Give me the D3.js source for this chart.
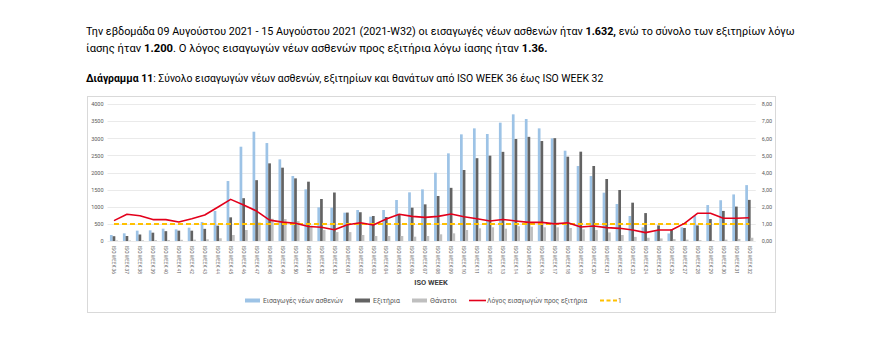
<!DOCTYPE html>
<html>
<head>
<meta charset="utf-8">
<script src="https://cdn.jsdelivr.net/npm/d3@7"></script>
<style>
  body { margin: 0; background: #fff; }
  svg { display: block; }
</style>
</head>
<body>
<svg id="chart" width="873" height="350"></svg>
<script>
// weeks 36..53 of 2020, then 01..32 of 2021
var weeks = ["36","37","38","39","40","41","42","43","44","45","46","47","48","49","50","51","52","53",
	     "01","02","03","04","05","06","07","08","09","10","11","12","13","14","15","16",
	     "17","18","19","20","21","22","23","24","25","26","27","28","29","30","31","32"];

var admissions = [175,224,302,311,360,340,389,555,876,1751,2753,3191,2860,2384,1897,1508,983,973,
		  827,905,710,905,1197,1421,1508,1995,2559,3114,3289,3124,3455,3698,3562,3289,
		  2997,2637,2189,1897,1411,1080,730,400,290,220,400,730,1050,1190,1360,1632];

var discharges = [140,146,190,243,287,302,302,355,448,691,1250,1776,2267,2141,1829,1732,1226,1416,
		  830,840,730,700,759,973,1070,1314,1552,2073,2418,2491,2603,2978,3041,2919,
		  3002,2462,2608,2190,1810,1489,1119,815,455,340,380,455,640,878,1005,1200];

var deaths = [15,15,20,25,30,35,40,50,80,175,321,540,650,640,580,450,320,260,
	      260,175,146,146,146,126,146,195,224,321,370,400,360,430,418,400,
	      400,380,340,320,250,175,120,95,75,55,40,25,25,40,60,95];

var ratio = [1.19,1.56,1.47,1.25,1.25,1.11,1.30,1.52,1.97,2.43,2.10,1.75,1.22,1.10,1.04,0.85,0.80,0.66,
	     0.95,1.07,0.93,1.28,1.56,1.44,1.38,1.44,1.58,1.42,1.30,1.17,1.26,1.17,1.09,1.09,
	     1.00,1.07,0.82,0.88,0.78,0.74,0.64,0.49,0.64,0.64,1.03,1.62,1.62,1.33,1.33,1.36];

var leftTicks = [0,500,1000,1500,2000,2500,3000,3500,4000];
var rightTicks = [0,1,2,3,4,5,6,7,8];

var seriesNames = ["Εισαγωγές νέων ασθενών", "Εξιτήρια", "Θάνατοι"];
var seriesColors = ["#9dc3e6", "#636363", "#bfbfbf"];
var ratioName = "Λόγος εισαγωγών προς εξιτήρια";

var svg = d3.select("#chart");
var font = "Roboto, 'Liberation Sans', sans-serif";

svg.append("rect").attr("width", 873).attr("height", 350).attr("fill", "#fff");

// header text: measure, then squeeze horizontally to the reference width
function textLine(y, parts, len){
    var g = svg.append("g");
    var t = g.append("text")
	.attr("x", 0).attr("y", 0)
	.attr("font-family", font)
	.attr("font-size", 11)
	.attr("fill", "#000");
    parts.forEach(function(p){
	t.append("tspan").attr("font-weight", p[1] ? "bold" : "normal").text(p[0]);
    });
    var w = t.node().getComputedTextLength();
    g.attr("transform", "translate(86," + y + ") scale(" + (len / w) + ",1)");
}
textLine(35, [["Την εβδομάδα 09 Αυγούστου 2021 - 15 Αυγούστου 2021 (2021-W32) οι εισαγωγές νέων ασθενών ήταν ", false],
	      ["1.632,", true], [" ενώ το σύνολο των εξιτηρίων λόγω", false]], 710);
textLine(52, [["ίασης ήταν ", false], ["1.200", true],
	      [". Ο λόγος εισαγωγών νέων ασθενών προς εξιτήρια λόγω ίασης ήταν ", false], ["1.36.", true]], 462);
textLine(82, [["Διάγραμμα 11", true],
	      [": Σύνολο εισαγωγών νέων ασθενών, εξιτηρίων και θανάτων από ISO WEEK 36 έως ISO WEEK 32", false]], 518);

// chart frame
svg.append("rect")
    .attr("x", 87.5).attr("y", 96.5)
    .attr("width", 688).attr("height", 216)
    .attr("fill", "none")
    .attr("stroke", "#d9d9d9")
    .attr("stroke-width", 1);

var plotLeft = 107.5, plotRight = 755.8, plotTop = 104, plotBottom = 241;

var x = d3.scaleBand()
    .domain(weeks)
    .range([plotLeft, plotRight])
    .paddingInner(0.375)
    .paddingOuter(0.1875);

var xSub = d3.scaleBand()
    .domain([0,1,2])
    .range([0, x.bandwidth()]);

var yL = d3.scaleLinear().domain([0, 4000]).range([plotBottom, plotTop]);
var yR = d3.scaleLinear().domain([0, 8]).range([plotBottom, plotTop]);

var comma = d3.formatLocale({decimal: ",", thousands: ".", grouping: [3], currency: ["", "€"]}).format(".2f");

// gridlines
svg.append("g")
    .selectAll("line")
    .data(leftTicks)
    .enter().append("line")
    .attr("x1", plotLeft).attr("x2", plotRight)
    .attr("y1", function(d){return Math.round(yL(d)) + 0.5;})
    .attr("y2", function(d){return Math.round(yL(d)) + 0.5;})
    .attr("stroke", "#e4e4e4")
    .attr("stroke-width", 0.8);

// left axis
var axL = svg.append("g")
    .attr("transform", "translate(" + (plotLeft - 4) + ",0)")
    .call(d3.axisLeft(yL).tickValues(leftTicks).tickFormat(d3.format("d")).tickSize(0).tickPadding(0));
axL.select(".domain").remove();
axL.selectAll("text")
    .attr("font-family", font).attr("font-size", 5.5).attr("fill", "#595959");

// right axis
var axR = svg.append("g")
    .attr("transform", "translate(" + (plotRight + 6) + ",0)")
    .call(d3.axisRight(yR).tickValues(rightTicks).tickFormat(comma).tickSize(0).tickPadding(0));
axR.select(".domain").remove();
axR.selectAll("text")
    .attr("font-family", font).attr("font-size", 5.5).attr("fill", "#595959");

// bars
var barData = [admissions, discharges, deaths];
barData.forEach(function(vals, s){
    svg.append("g")
	.selectAll("rect")
	.data(vals)
	.enter().append("rect")
	.attr("x", function(d,i){return x(weeks[i]) + xSub(s);})
	.attr("y", function(d){return yL(d);})
	.attr("width", xSub.bandwidth())
	.attr("height", function(d){return plotBottom - yL(d);})
	.attr("fill", seriesColors[s]);
});

// reference line at 1
svg.append("line")
    .attr("x1", x(weeks[0]) + x.bandwidth()/2)
    .attr("x2", x(weeks[weeks.length-1]) + x.bandwidth()/2)
    .attr("y1", yR(1)).attr("y2", yR(1))
    .attr("stroke", "#ffc000")
    .attr("stroke-width", 2)
    .attr("stroke-dasharray", "5,3");

// ratio line
var lineFunction = d3.line()
    .x(function(d,i){return x(weeks[i]) + x.bandwidth()/2;})
    .y(function(d){return yR(d);});

svg.append("path")
    .attr("d", lineFunction(ratio))
    .attr("fill", "none")
    .attr("stroke", "#e3001b")
    .attr("stroke-width", 1.6)
    .attr("stroke-linejoin", "round");

// x labels, rotated
svg.append("g")
    .selectAll("text")
    .data(weeks)
    .enter().append("text")
    .attr("transform", function(d){
	return "translate(" + (x(d) + x.bandwidth()/2 - 1.8) + "," + (plotBottom + 5) + ") rotate(90)";
    })
    .attr("font-family", font)
    .attr("font-size", 5.3)
    .attr("fill", "#595959")
    .attr("textLength", 28)
    .attr("lengthAdjust", "spacingAndGlyphs")
    .text(function(d){return "ISO WEEK " + d;});

// axis title
svg.append("text")
    .attr("x", 431).attr("y", 285)
    .attr("text-anchor", "middle")
    .attr("font-family", font)
    .attr("font-size", 7.5)
    .attr("font-weight", "bold")
    .attr("fill", "#404040")
    .text("ISO WEEK");

// legend
var legY = 301;
var legItems = [
    {type: "bar", color: seriesColors[0], label: seriesNames[0], x: 245, w: 80},
    {type: "bar", color: seriesColors[1], label: seriesNames[1], x: 355, w: 27},
    {type: "bar", color: seriesColors[2], label: seriesNames[2], x: 412, w: 27},
    {type: "line", color: "#e3001b", label: ratioName, x: 469, w: 100},
    {type: "dash", color: "#ffc000", label: "1", x: 600, w: 0}
];
var leg = svg.append("g");
legItems.forEach(function(it){
    if (it.type == "bar") {
	leg.append("rect")
	    .attr("x", it.x).attr("y", legY - 2.5)
	    .attr("width", 15).attr("height", 4)
	    .attr("fill", it.color);
    } else {
	leg.append("line")
	    .attr("x1", it.x).attr("x2", it.x + 17)
	    .attr("y1", legY - 0.5).attr("y2", legY - 0.5)
	    .attr("stroke", it.color)
	    .attr("stroke-width", it.type == "dash" ? 2 : 1.6)
	    .attr("stroke-dasharray", it.type == "dash" ? "4,2.5" : null);
    }
    var t = leg.append("text")
	.attr("x", it.x + 18).attr("y", legY + 2.2)
	.attr("font-family", font)
	.attr("font-size", 6.5)
	.attr("fill", "#595959")
	.text(it.label);
    if (it.w) t.attr("textLength", it.w).attr("lengthAdjust", "spacingAndGlyphs");
});
</script>
</body>
</html>
